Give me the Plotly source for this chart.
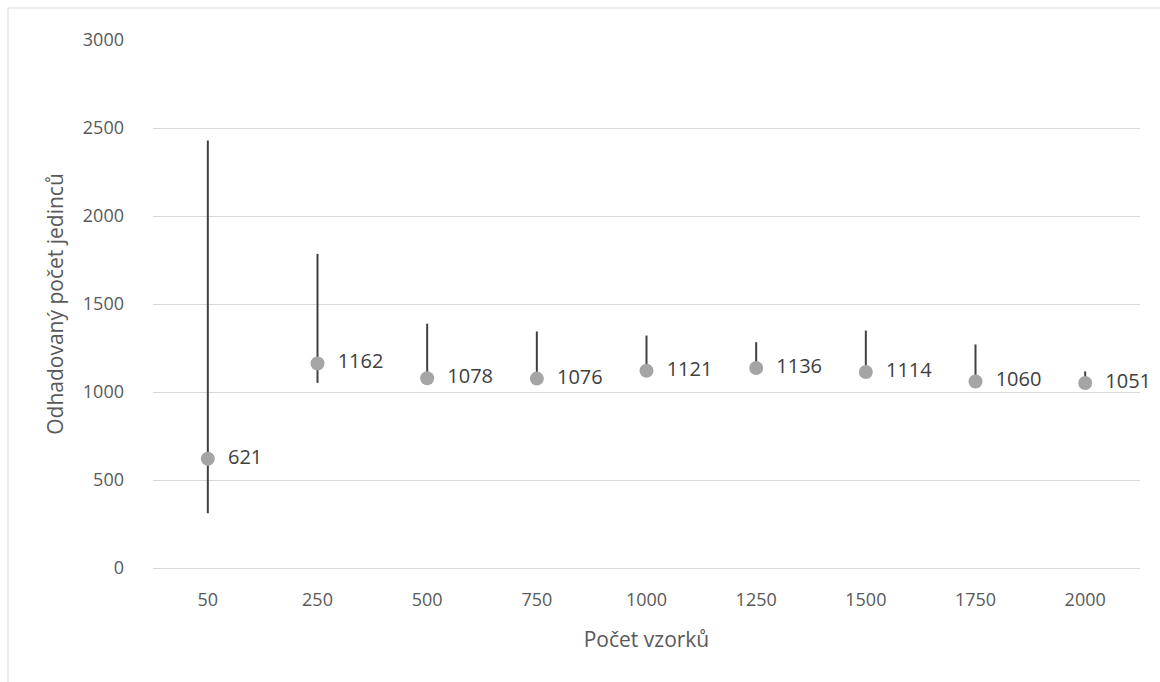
import plotly.graph_objects as go

# Sample counts (categories) and estimated population size
pocet_vzorku = ["50", "250", "500", "750", "1000", "1250", "1500", "1750", "2000"]
odhad = [621, 1162, 1078, 1076, 1121, 1136, 1114, 1060, 1051]
horni_mez = [2429, 1785, 1388, 1344, 1321, 1283, 1349, 1270, 1117]
dolni_mez = [311, 1052, 1060, 1055, 1100, 1115, 1095, 1040, 1030]

plus = [h - v for h, v in zip(horni_mez, odhad)]
minus = [v - d for v, d in zip(odhad, dolni_mez)]

font_family = "Open Sans, Noto Sans, sans-serif"
text_col = "#595959"
grid_col = "#d9d9d9"

fig = go.Figure()
fig.add_trace(go.Scatter(
    x=pocet_vzorku,
    y=odhad,
    mode="markers+text",
    marker=dict(color="#a5a5a5", size=14, line=dict(width=0)),
    text=["  " + str(v) for v in odhad],
    textposition="middle right",
    textfont=dict(family=font_family, size=20, color="#404040"),
    error_y=dict(type="data", symmetric=False, array=plus, arrayminus=minus,
                 color="#404040", thickness=2, width=0),
    cliponaxis=False,
    showlegend=False,
    hoverinfo="skip",
))

W, H = 1160, 682
ml, mr, mt, mb = 153, 20, 40, 114
pw, ph = W - ml - mr, H - mt - mb

def px_x(p):
    return (p - ml) / pw

def px_y(p):
    return (H - mb - p) / ph

fig.update_layout(
    width=W, height=H,
    margin=dict(l=ml, r=mr, t=mt, b=mb),
    paper_bgcolor="white",
    plot_bgcolor="white",
    font=dict(family=font_family, color=text_col),
    xaxis=dict(
        type="category",
        categoryorder="array",
        categoryarray=pocet_vzorku,
        range=[-0.5, len(pocet_vzorku) - 0.5],
        showgrid=False,
        showline=True, linecolor=grid_col, linewidth=1,
        ticks="", tickfont=dict(size=18, color=text_col),
        ticklabelstandoff=15,
        title=dict(text="Počet vzorků", font=dict(size=21, color=text_col), standoff=22),
        fixedrange=True,
    ),
    yaxis=dict(
        range=[0, 3000],
        tickvals=[0, 500, 1000, 1500, 2000, 2500, 3000],
        showgrid=True, gridcolor=grid_col, gridwidth=1,
        zeroline=False, showline=False,
        ticks="", tickfont=dict(size=18, color=text_col),
        ticklabelstandoff=28,
        title=dict(text="Odhadovaný počet jedinců", font=dict(size=21, color=text_col), standoff=13),
        fixedrange=True,
    ),
    shapes=[dict(
        type="rect", xref="paper", yref="paper",
        x0=px_x(8), x1=px_x(1175), y0=px_y(700), y1=px_y(8),
        line=dict(color=grid_col, width=1), fillcolor="rgba(0,0,0,0)", layer="below",
    )],
)

fig.write_html("out.html")
